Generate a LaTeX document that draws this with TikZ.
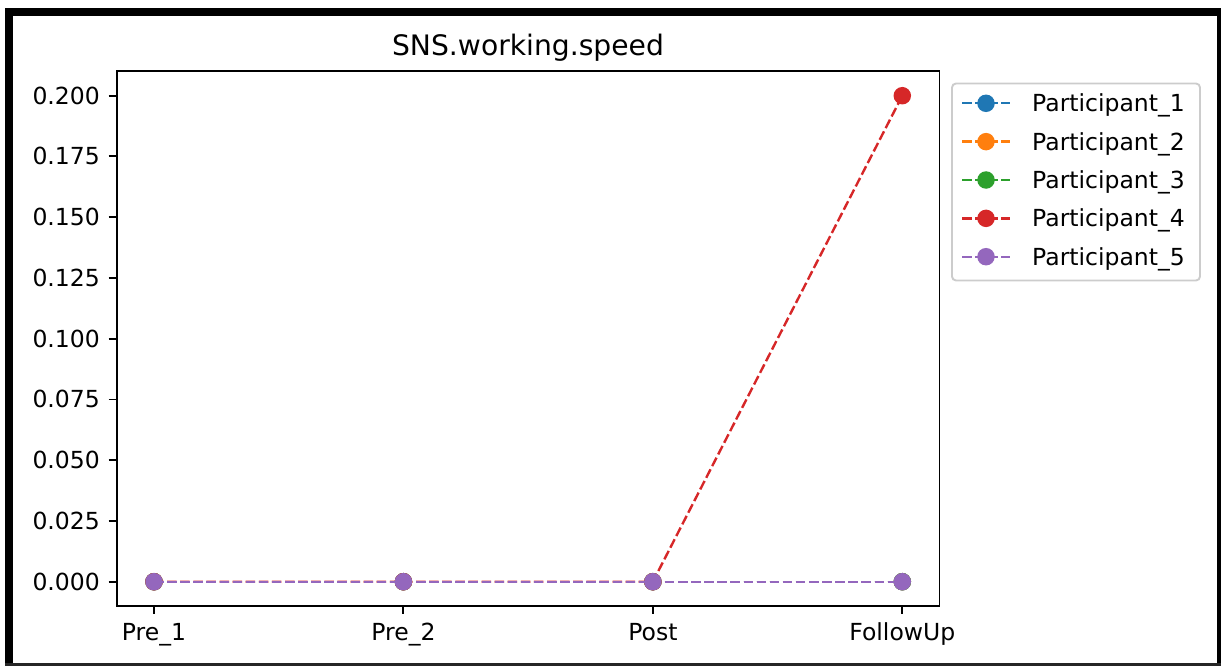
\documentclass[tikz,border=0pt]{standalone}
\usepackage{fontspec}
\setmainfont{DejaVu Sans}
\usetikzlibrary{positioning,calc}
\definecolor{tabblue}{HTML}{1F77B4}
\definecolor{taborange}{HTML}{FF7F0E}
\definecolor{tabgreen}{HTML}{2CA02C}
\definecolor{tabred}{HTML}{D62728}
\definecolor{tabpurple}{HTML}{9467BD}

\begin{document}
\begin{tikzpicture}[x=1pt,y=-1pt,font=\fontsize{23.5}{28}\selectfont,
  series/.style={line width=2.4pt,dash pattern=on 9.5pt off 3.6pt},
  dot/.style={circle,fill=#1,inner sep=0pt,minimum size=17.5pt},
  axisline/.style={line width=1.9pt}]
\useasboundingbox (0,0) rectangle (1221,666);
% frame round the figure
\fill (5,8) rectangle (12.5,666);
\fill (5,8) rectangle (1221,16);
\fill (1216.5,8) rectangle (1221,666);
\fill[black!85] (5,663) rectangle (1221,665.5);

% axes box and title
\draw[axisline] (117,71) rectangle (939.5,605.7);
\node[anchor=base] (title) at (528,56) {\fontsize{28.2}{34}\selectfont SNS.working.speed};

% y ticks
\foreach \i/\lab in {0/0.000,1/0.025,2/0.050,3/0.075,4/0.100,5/0.125,6/0.150,7/0.175,8/0.200}{
 \draw[axisline] (108.5,{581.7-\i*60.75}) -- (117,{581.7-\i*60.75});
 \node[anchor=base east,inner sep=0pt] (ylab\i) at (100,{581.7-\i*60.75+8.5}) {\lab};
}
% x ticks
\foreach \k/\lab in {0/Pre\_1,1/Pre\_2,2/Post,3/FollowUp}{
 \draw[axisline] ({154+\k*249.43},605.7) -- ({154+\k*249.43},614);
 \node[anchor=base,inner sep=0pt] (xlab\k) at ({154+\k*249.43},640) {\lab};
}

% data series
\foreach \s/\c/\fu in {1/tabblue/0,2/taborange/0,3/tabgreen/0,4/tabred/0.2,5/tabpurple/0}{
 \foreach \k/\v in {0/0,1/0,2/0,3/\fu}
  \coordinate (s\s-\k) at ({154+\k*249.43},{581.7-\v*2430});
 \draw[series,\c] (s\s-0) -- (s\s-1) -- (s\s-2) -- (s\s-3);
 \foreach \k in {0,...,3}
  \node[dot=\c] (d\s-\k) at (s\s-\k) {};
}

% legend
\draw[black!20,fill=white,line width=1.9pt,rounded corners=4pt] (952,83.5) rectangle (1200,280.5);
\foreach \i/\c in {1/tabblue,2/taborange,3/tabgreen,4/tabred,5/tabpurple}{
 \coordinate (la\i) at (962,{103.3+(\i-1)*38.35});
 \coordinate (lb\i) at (1010,{103.3+(\i-1)*38.35});
 \draw[series,\c,dash phase=0pt] (la\i) -- (lb\i);
 \node[dot=\c] (lm\i) at ($(la\i)!0.5!(lb\i)$) {};
 \node[anchor=base west,inner sep=0pt] (leg\i) at (1032,{103.3+(\i-1)*38.35+8.5}) {Participant\_\i};
}
\end{tikzpicture}
\end{document}
